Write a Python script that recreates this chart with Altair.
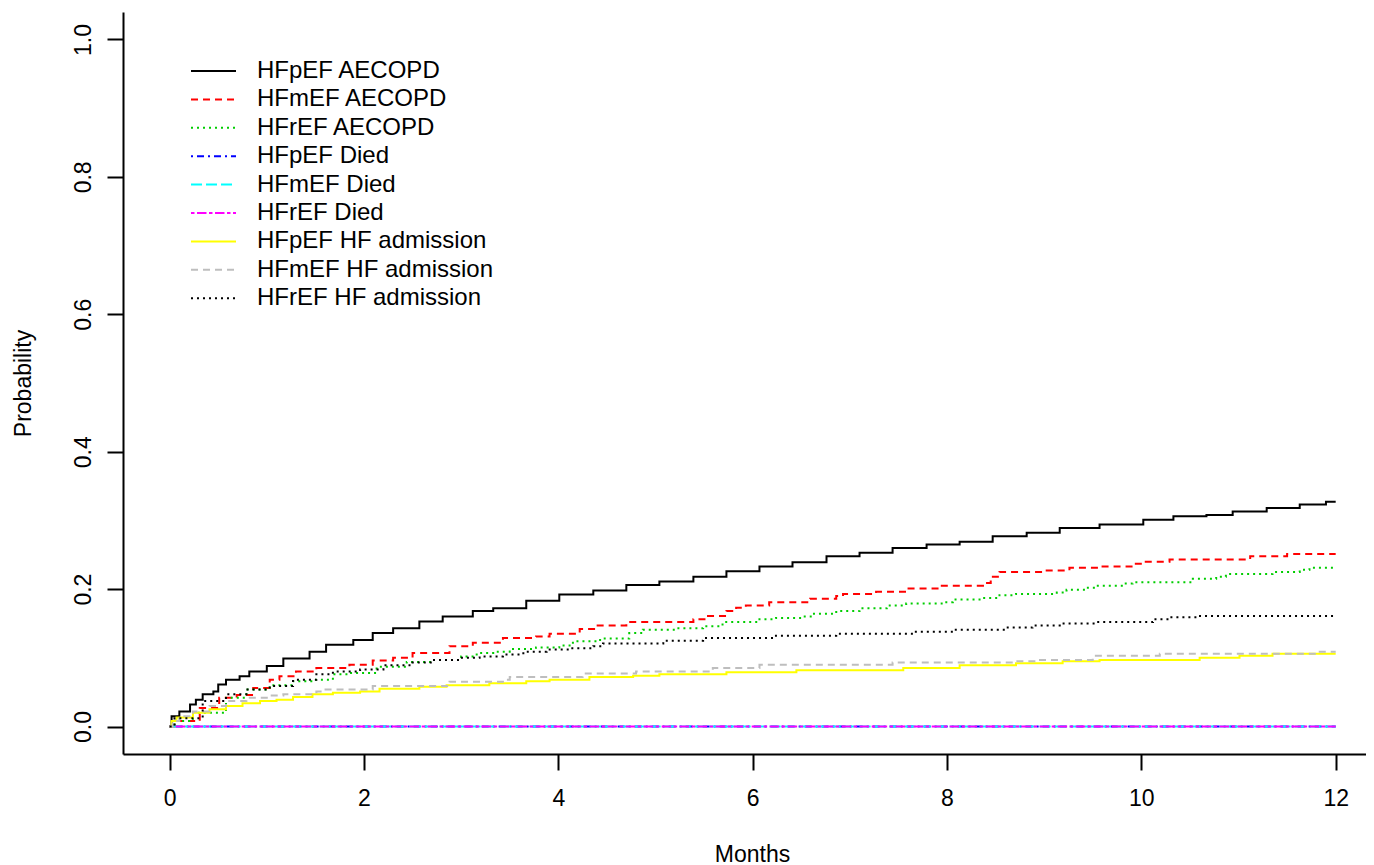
import altair as alt
import pandas as pd

series = [
    "HFpEF AECOPD", "HFmEF AECOPD", "HFrEF AECOPD",
    "HFpEF Died", "HFmEF Died", "HFrEF Died",
    "HFpEF HF admission", "HFmEF HF admission", "HFrEF HF admission",
]
colors = ["#000000", "#FF0000", "#00CD00", "#0000FF", "#00FFFF", "#FF00FF",
          "#FFFF00", "#BEBEBE", "#000000"]
dashes = [[1, 0], [7, 5], [2, 4], [2, 4, 7, 4], [11, 4], [3.5, 2.5, 9.5, 2.5],
          [1, 0], [7, 5], [2, 4]]

# HFpEF AECOPD
t_pef_ae = [0, 0.02, 0.10, 0.21, 0.27, 0.34, 0.45, 0.50, 0.58, 0.72, 0.82, 1.0, 1.17, 1.44,
            1.61, 1.89, 2.09, 2.30, 2.57, 2.81, 3.12, 3.33, 3.67, 4.01, 4.36, 4.70, 5.04,
            5.39, 5.73, 6.07, 6.41, 6.76, 7.10, 7.44, 7.79, 8.13, 8.47, 8.82, 9.16, 9.57,
            10.02, 10.33, 10.67, 10.94, 11.29, 11.63, 11.9, 12]
v_pef_ae = [0, 0.015, 0.022, 0.032, 0.039, 0.047, 0.051, 0.061, 0.068, 0.073, 0.080, 0.088,
            0.099, 0.109, 0.119, 0.126, 0.136, 0.143, 0.153, 0.160, 0.168, 0.172, 0.183,
            0.192, 0.198, 0.206, 0.211, 0.218, 0.226, 0.233, 0.239, 0.248, 0.253, 0.260,
            0.265, 0.269, 0.277, 0.282, 0.289, 0.294, 0.301, 0.306, 0.308, 0.313, 0.318,
            0.323, 0.327, 0.327]

# HFmEF AECOPD
t_mef_ae = [0, 0.05, 0.31, 0.51, 0.69, 0.86, 1.03, 1.13, 1.30, 1.51, 1.85, 2.09, 2.30, 2.50,
            2.88, 3.12, 3.43, 3.77, 3.91, 4.22, 4.39, 4.70, 5.39, 5.52, 5.73, 5.83, 5.93,
            6.17, 6.59, 6.86, 6.93, 7.27, 7.58, 7.92, 8.37, 8.45, 8.54, 8.99, 9.26, 9.57,
            9.91, 10.02, 10.29, 11.12, 11.50, 12]
v_mef_ae = [0, 0.008, 0.027, 0.042, 0.046, 0.056, 0.068, 0.073, 0.080, 0.085, 0.090, 0.096,
            0.100, 0.107, 0.117, 0.122, 0.129, 0.131, 0.135, 0.142, 0.147, 0.152, 0.156,
            0.161, 0.168, 0.173, 0.176, 0.181, 0.186, 0.190, 0.193, 0.196, 0.201, 0.205,
            0.209, 0.218, 0.225, 0.227, 0.231, 0.233, 0.237, 0.240, 0.243, 0.248, 0.251,
            0.251]

# HFrEF AECOPD
t_ref_ae = [0, 0.05, 0.24, 0.58, 0.79, 1.03, 1.27, 1.47, 1.68, 1.85, 2.13, 2.44, 2.71, 3.0,
            3.16, 3.33, 3.50, 3.77, 4.01, 4.15, 4.43, 4.73, 4.87, 5.21, 5.49, 5.69, 6.07,
            6.24, 6.52, 6.62, 6.86, 7.10, 7.38, 7.58, 7.96, 8.06, 8.37, 8.54, 8.71, 9.13,
            9.23, 9.43, 9.54, 9.81, 9.91, 10.53, 10.77, 10.87, 11.35, 11.63, 11.73, 12]
v_ref_ae = [0, 0.008, 0.020, 0.042, 0.054, 0.060, 0.066, 0.068, 0.076, 0.078, 0.087, 0.094,
            0.097, 0.102, 0.107, 0.109, 0.113, 0.115, 0.118, 0.124, 0.128, 0.136, 0.141,
            0.143, 0.146, 0.152, 0.156, 0.158, 0.160, 0.164, 0.168, 0.172, 0.176, 0.179,
            0.181, 0.185, 0.187, 0.191, 0.193, 0.195, 0.199, 0.202, 0.205, 0.208, 0.210,
            0.215, 0.218, 0.222, 0.225, 0.228, 0.231, 0.231]

# Died
t_pef_died = [0, 12]
v_pef_died = [0, 0]
t_mef_died = [0, 12]
v_mef_died = [0, 0.005]
t_ref_died = [0, 12]
v_ref_died = [0, 0]

# HFpEF HF admission
t_pef_hf = [0, 0.02, 0.07, 0.24, 0.41, 0.58, 0.75, 0.93, 1.10, 1.27, 1.47, 1.68, 1.96, 2.16,
            2.57, 2.85, 3.29, 3.67, 3.91, 4.32, 4.77, 5.04, 5.73, 6.45, 7.55, 8.13, 8.71,
            9.19, 9.57, 10.60, 11.01, 11.35, 12]
v_pef_hf = [0, 0.008, 0.013, 0.020, 0.025, 0.030, 0.034, 0.037, 0.039, 0.043, 0.047, 0.049,
            0.051, 0.055, 0.058, 0.060, 0.063, 0.066, 0.068, 0.072, 0.074, 0.076, 0.079,
            0.082, 0.085, 0.089, 0.092, 0.095, 0.097, 0.100, 0.103, 0.106, 0.106]

# HFmEF HF admission
t_mef_hf = [0, 0.03, 0.10, 0.24, 0.41, 0.58, 0.79, 1.03, 1.17, 1.51, 1.58, 2.09, 2.88, 3.43,
            3.50, 4.25, 4.80, 5.59, 6.07, 7.44, 8.71, 8.92, 9.50, 10.19, 11.80, 12]
v_mef_hf = [0, 0.008, 0.015, 0.022, 0.030, 0.037, 0.042, 0.045, 0.047, 0.051, 0.054, 0.059,
            0.065, 0.068, 0.072, 0.077, 0.080, 0.085, 0.090, 0.093, 0.095, 0.097, 0.103,
            0.106, 0.109, 0.109]

# HFrEF HF admission
t_ref_hf = [0, 0.05, 0.34, 0.58, 0.79, 1.03, 1.27, 1.51, 1.68, 1.96, 2.20, 2.50, 2.71, 2.98,
            3.19, 3.43, 3.64, 3.88, 4.12, 4.36, 4.46, 5.08, 5.49, 6.21, 6.86, 7.65, 8.06,
            8.61, 8.88, 9.16, 9.54, 10.12, 10.29, 10.57, 12]
v_ref_hf = [0, 0.012, 0.037, 0.047, 0.054, 0.059, 0.068, 0.076, 0.080, 0.083, 0.089, 0.093,
            0.097, 0.100, 0.102, 0.105, 0.109, 0.112, 0.114, 0.117, 0.121, 0.125, 0.129,
            0.132, 0.135, 0.138, 0.141, 0.144, 0.147, 0.150, 0.152, 0.156, 0.159, 0.161,
            0.161]

x_ticks = [0, 2, 4, 6, 8, 10, 12]
y_ticks = [0.0, 0.2, 0.4, 0.6, 0.8, 1.0]

curves = [
    (t_pef_ae, v_pef_ae), (t_mef_ae, v_mef_ae), (t_ref_ae, v_ref_ae),
    (t_pef_died, v_pef_died), (t_mef_died, v_mef_died), (t_ref_died, v_ref_died),
    (t_pef_hf, v_pef_hf), (t_mef_hf, v_mef_hf), (t_ref_hf, v_ref_hf),
]
rows = []
for i, (name, (ts, vs)) in enumerate(zip(series, curves)):
    for t, v in zip(ts, vs):
        rows.append({"series": name, "idx": i, "t": t, "v": v})
df = pd.DataFrame(rows)

FONT = "Liberation Sans"

leg = alt.Legend(
    title=None, orient="none", legendX=67, legendY=47,
    symbolType="stroke", symbolSize=2025, symbolStrokeWidth=2,
    labelFontSize=24, labelFont=FONT, labelColor="black",
    clipHeight=24, rowPadding=4.4, labelOffset=20, padding=0,
    symbolOffset=0, labelLimit=0,
)

chart = alt.Chart(df).mark_line(interpolate="step-after", strokeWidth=2).encode(
    x=alt.X("t:Q",
            scale=alt.Scale(domain=[-0.48, 12.312], nice=False, zero=False),
            axis=alt.Axis(values=x_ticks, grid=False, title="Months",
                          domainColor="black", domainWidth=2, tickColor="black",
                          tickWidth=2, tickSize=16, labelFontSize=23, labelFont=FONT,
                          labelColor="black", labelBaseline="alphabetic", labelPadding=35,
                          titleFont=FONT, titleFontSize=23, titleFontWeight="normal",
                          titleColor="black", titleX=629, titleY=107,
                          titleBaseline="alphabetic", titleAlign="center")),
    y=alt.Y("v:Q",
            scale=alt.Scale(domain=[-0.04, 1.04], nice=False, zero=False),
            axis=alt.Axis(values=y_ticks, format=".1f", grid=False, title="Probability",
                          domainColor="black", domainWidth=2, tickColor="black",
                          tickWidth=2, tickSize=16, labelFontSize=23, labelFont=FONT,
                          labelColor="black", labelAngle=270, labelAlign="center",
                          labelBaseline="alphabetic", labelPadding=17,
                          titleFont=FONT, titleFontSize=23, titleFontWeight="normal",
                          titleColor="black", titleAngle=270, titleX=-93, titleY=371,
                          titleBaseline="alphabetic", titleAlign="center")),
    color=alt.Color("series:N", scale=alt.Scale(domain=series, range=colors), legend=leg),
    strokeDash=alt.StrokeDash("series:N", scale=alt.Scale(domain=series, range=dashes),
                              legend=leg),
).properties(
    width=1243, height=742,
    padding={"left": 115, "top": 4, "right": 0, "bottom": 111},
    autosize=alt.AutoSizeParams(type="none"),
    background="white",
).configure_view(stroke=None)

chart.save("out.html", embed_options={"renderer": "svg", "actions": False})
